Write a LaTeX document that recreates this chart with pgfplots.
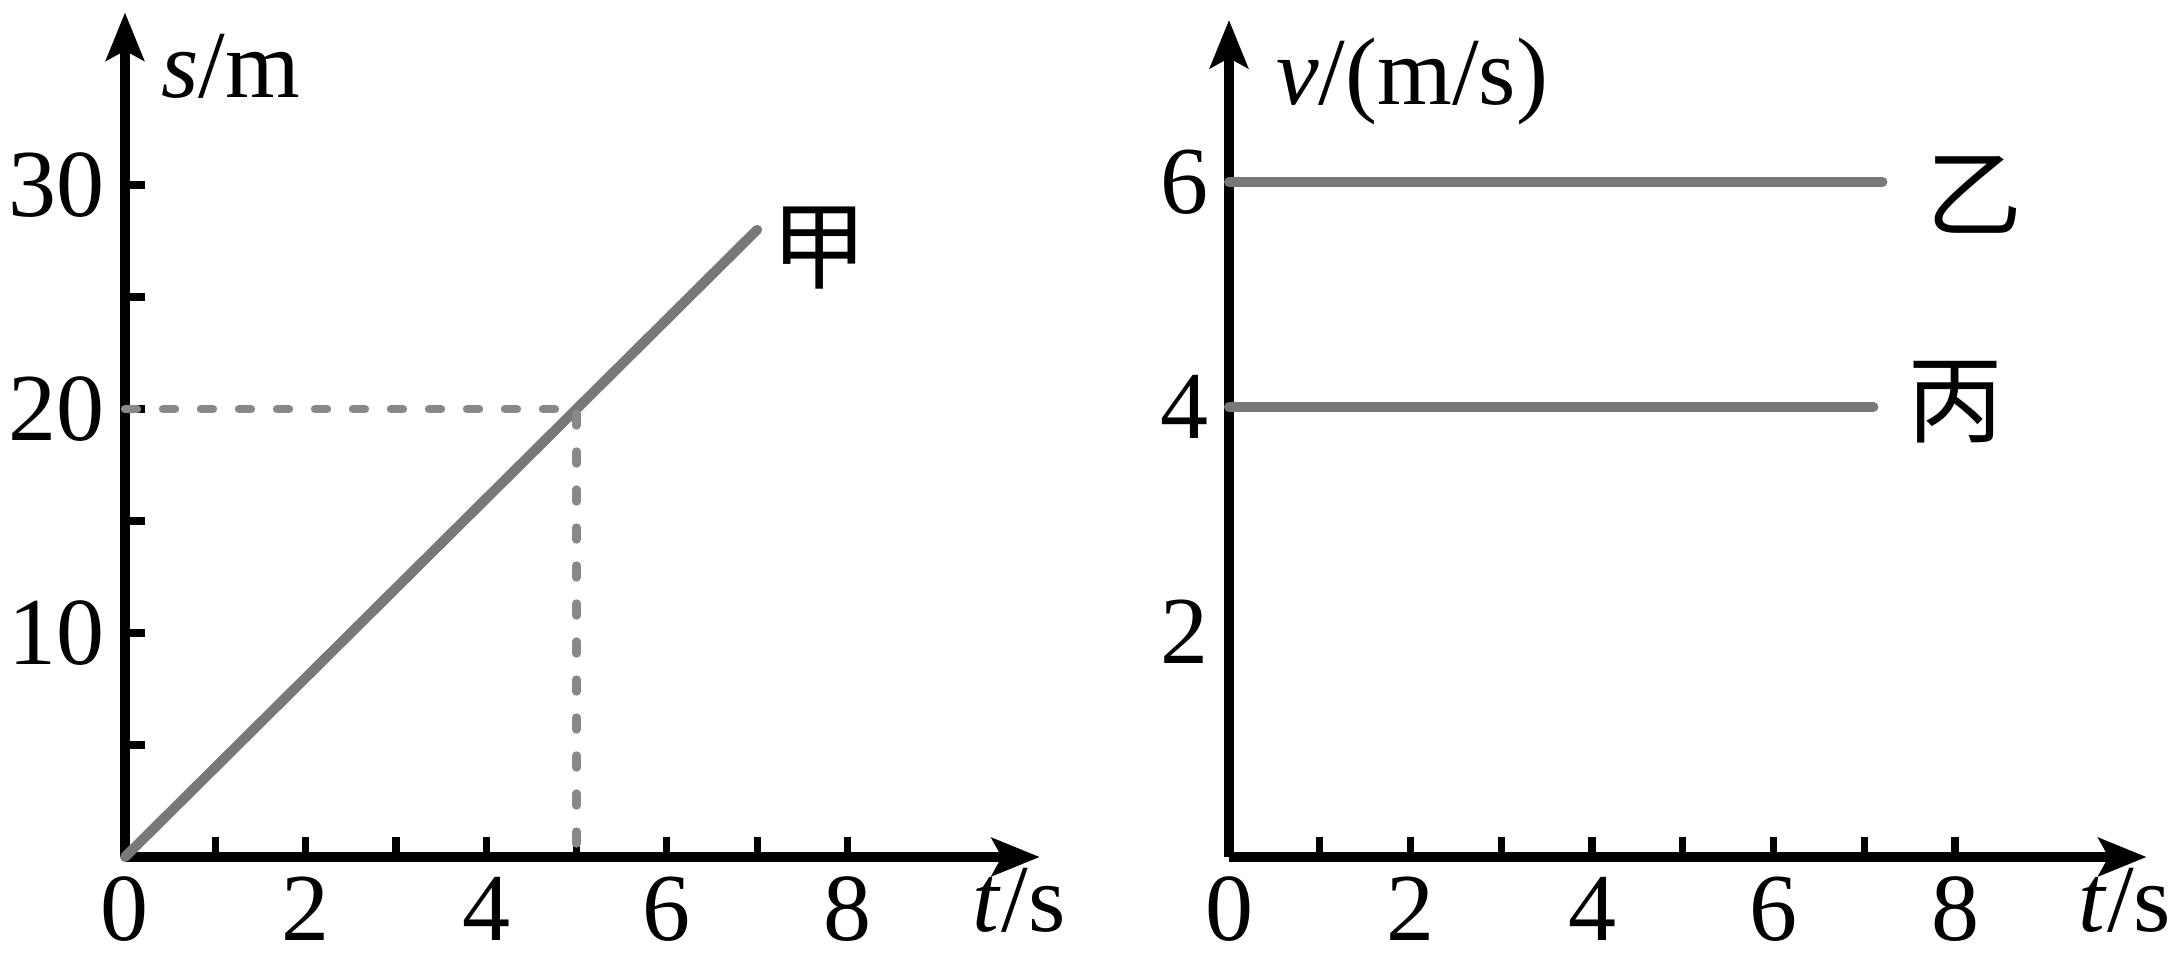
\documentclass[border=0pt]{standalone}
\usepackage{fontspec}
\setmainfont{Liberation Serif}
\newfontfamily\cjk{Noto Sans CJK SC}
\usepackage{pgfplots}
\pgfplotsset{compat=1.18}
\usetikzlibrary{arrows.meta}
\definecolor{lgray}{RGB}{120,120,120}
\definecolor{dgray}{RGB}{136,136,136}
\begin{document}
\fontsize{24}{28}\selectfont
\begin{tikzpicture}
\useasboundingbox (0,0) rectangle (544.25pt,238.75pt);
\pgfplotsset{
  myax/.style={
    axis lines=left, enlargelimits=false, clip=false,
    axis line style={line width=2.3pt, -{Stealth[length=12pt,width=9.5pt,inset=2.5pt]}},
    tick style={line width=1.8pt, black},
    major tick length=5pt, tick align=inside,
    /pgf/number format/assume math mode=true,
    tick label style={font=\fontsize{24}{28}\selectfont},
    yticklabel style={xshift=3pt},
    xticklabel style={inner sep=0pt, yshift=-4.8pt},
  }
}
\begin{axis}[myax, at={(31.25pt,24.5pt)}, anchor=origin, x=22.575pt, y=5.6pt,
  xmin=0, xmax=10.13, ymin=0, ymax=37.7,
  xtick={0,...,8}, xticklabels={0,,2,,4,,6,,8},
  ytick={0,5,...,30}, yticklabels={,,10,,20,,30}]
\addplot[lgray, line width=2.5pt, line cap=round] coordinates {(0,0) (7,28)};
\addplot[dgray, line width=2.1pt, line cap=round, dash pattern=on 3pt off 6.5pt] coordinates {(0,20) (5,20) (5,0)};
\node[anchor=base west, inner sep=0pt] at (axis cs:0.39,33.9) {\textit{s}/m};
\node at (axis cs:7.69,27.2) {\cjk 甲};
\node[anchor=base west, inner sep=0pt] at (axis cs:9.38,-3.31) {\textit{t}/s};
\end{axis}
\begin{axis}[myax, at={(307.25pt,24.5pt)}, anchor=origin, x=22.69pt, y=28.125pt,
  xmin=0, xmax=10.11, ymin=0, ymax=7.44,
  xtick={0,...,8}, xticklabels={0,,2,,4,,6,,8},
  ytick={2,4,6}, ytick style={draw=none}]
\addplot[lgray, line width=2.5pt, line cap=round] coordinates {(0,6) (7.2,6)};
\addplot[lgray, line width=2.5pt, line cap=round] coordinates {(0,4) (7.1,4)};
\node[anchor=base west, inner sep=0pt] at (axis cs:0.51,6.69) {\textit{v}/(m/s)};
\node at (axis cs:8.21,5.89) {\cjk 乙};
\node at (axis cs:8.0,4.04) {\cjk 丙};
\node[anchor=base west, inner sep=0pt] at (axis cs:9.35,-0.66) {\textit{t}/s};
\end{axis}
\end{tikzpicture}
\end{document}
